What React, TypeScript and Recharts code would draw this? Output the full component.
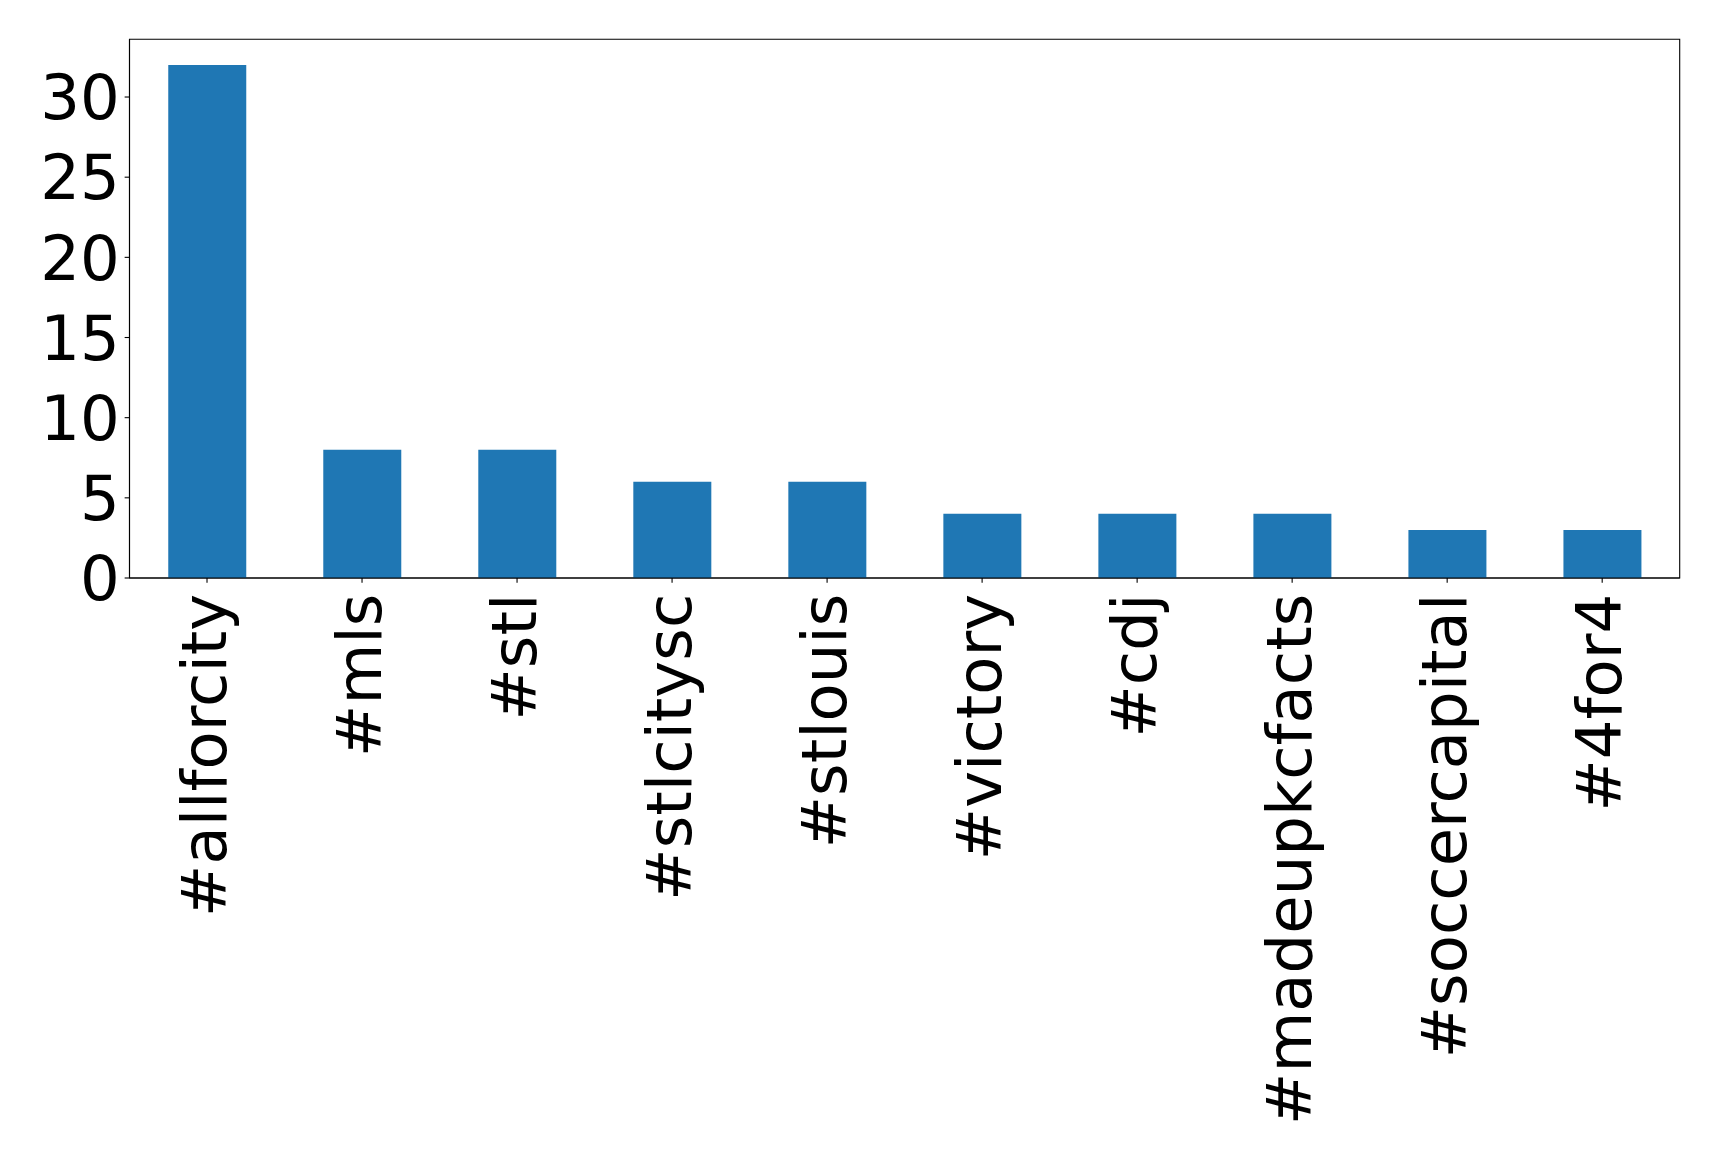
import React from "react";
import { BarChart, Bar, XAxis, YAxis, ReferenceArea } from "recharts";

const categories = [
  "#allforcity",
  "#mls",
  "#stl",
  "#stlcitysc",
  "#stlouis",
  "#victory",
  "#cdj",
  "#madeupkcfacts",
  "#soccercapital",
  "#4for4",
];
const counts = [32, 8, 8, 6, 6, 4, 4, 4, 3, 3];
const yTicks = [0, 5, 10, 15, 20, 25, 30];
const yMax = 33.6;

const data = categories.map((name, i) => ({ name, count: counts[i] }));

const FONT = "DejaVu Sans";
const FS = 62.5;

const XTick = (props: any) => {
  const { x, y, payload } = props;
  return (
    <g transform={`translate(${x},${y})`}>
      <text
        transform="rotate(-90)"
        x={-6}
        y={0}
        dy="0.3em"
        textAnchor="end"
        fontFamily={FONT}
        fontSize={FS}
        fill="#000"
      >
        {payload.value}
      </text>
    </g>
  );
};

export default function App() {
  return (
    <div style={{ position: "absolute", left: 0, top: 0, background: "#fff" }}>
      <BarChart
        width={1719}
        height={1159}
        data={data}
        margin={{ top: 39.3, right: 39.3, bottom: 0, left: 0 }}
        barCategoryGap="25%"
      >
        <XAxis
          dataKey="name"
          interval={0}
          height={581}
          tick={<XTick />}
          tickSize={4.86}
          tickMargin={4.86}
          axisLine={{ stroke: "#000", strokeWidth: 1.1 }}
          tickLine={{ stroke: "#000", strokeWidth: 1.1 }}
        />
        <YAxis
          type="number"
          domain={[0, yMax]}
          ticks={yTicks}
          allowDataOverflow
          width={129.5}
          tickSize={4.86}
          tickMargin={4.86}
          tick={{ fontFamily: FONT, fontSize: FS, fill: "#000" }}
          axisLine={{ stroke: "#000", strokeWidth: 1.1 }}
          tickLine={{ stroke: "#000", strokeWidth: 1.1 }}
        />
        <Bar dataKey="count" fill="#1f77b4" isAnimationActive={false} />
        <ReferenceArea
          y1={0}
          y2={yMax}
          fill="none"
          fillOpacity={0}
          stroke="#000"
          strokeWidth={1.1}
          ifOverflow="visible"
        />
      </BarChart>
    </div>
  );
}
